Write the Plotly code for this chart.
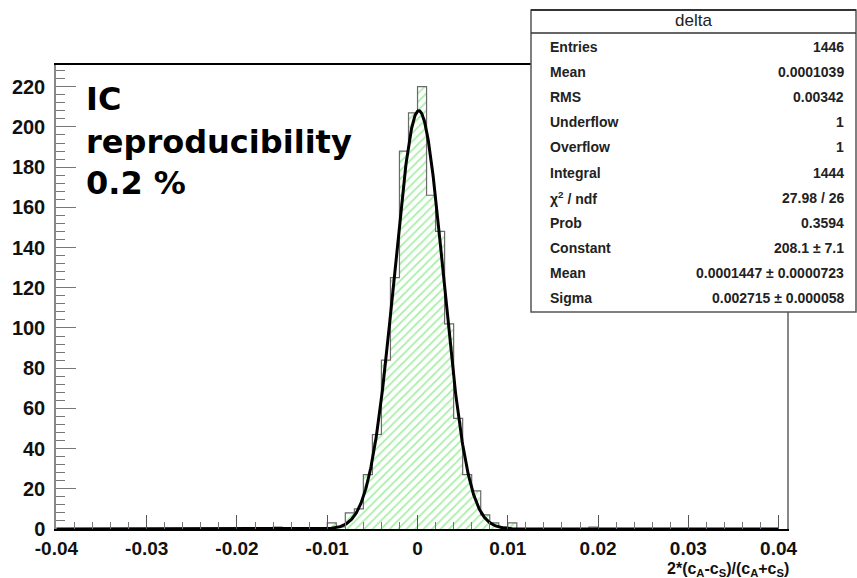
import numpy as np
import plotly.graph_objects as go

# ---------------- data ----------------
bin_centers = [-0.0155, -0.0145, -0.0135, -0.0125, -0.0115, -0.0105, -0.0095, -0.0085,
               -0.0075, -0.0065, -0.0055, -0.0045, -0.0035, -0.0025, -0.0015, -0.0005,
               0.0005, 0.0015, 0.0025, 0.0035, 0.0045, 0.0055, 0.0065, 0.0075,
               0.0085, 0.0095, 0.0105, 0.0115, 0.0125, 0.0135, 0.0145, 0.0155,
               0.0165, 0.0175, 0.0185, 0.0195]
counts = [1, 0, 0, 0, 0, 0, 3, 1,
          8, 10, 27, 47, 84, 125, 188, 207,
          220, 166, 148, 102, 55, 27, 19, 7,
          3, 1, 3, 0, 0, 0, 0, 0,
          0, 0, 0, 1]
bin_width = 0.001

fit_constant = 208.1
fit_mean = 0.0001447
fit_sigma = 0.002715

x_tick_vals = [-0.04, -0.03, -0.02, -0.01, 0.0, 0.01, 0.02, 0.03, 0.04]
x_tick_text = ["-0.04", "-0.03", "-0.02", "-0.01", "0", "0.01", "0.02", "0.03", "0.04"]
y_tick_vals = [0, 20, 40, 60, 80, 100, 120, 140, 160, 180, 200, 220]

stats_title = "delta"
stats_labels = ["Entries", "Mean", "RMS", "Underflow", "Overflow", "Integral",
                "χ<sup>2</sup> / ndf", "Prob", "Constant", "Mean", "Sigma"]
stats_values = ["1446", "0.0001039", "0.00342", "1", "1", "1444",
                "27.98 / 26", "0.3594", "208.1 ± 7.1",
                "0.0001447 ± 0.0000723", "0.002715 ± 0.000058"]

label_lines = ["IC", "reproducibility", "0.2 %"]
x_title = "2*(c<sub>A</sub>-c<sub>S</sub>)/(c<sub>A</sub>+c<sub>S</sub>)"

# ---------------- layout geometry (pixels) ----------------
W, H = 857, 578
L, R, T, B = 56, 787, 65, 529


def px(x):
    return (x - L) / (R - L)


def py(y):
    return (B - y) / (B - T)


FONT = "Liberation Sans, Arial, sans-serif"

fig = go.Figure()

# histogram fill (hatched)
fig.add_trace(go.Bar(
    x=bin_centers, y=counts, width=bin_width,
    marker=dict(color="rgba(0,0,0,0)", line=dict(width=0),
                pattern=dict(shape="/", fgcolor="#4fe04f", bgcolor="white",
                             size=6, solidity=0.3)),
    showlegend=False, hoverinfo="skip"))

# histogram outline (step)
edges_left = [c - bin_width / 2 for c in bin_centers]
step_x = [edges_left[0]] + edges_left + [bin_centers[-1] + bin_width / 2]
step_y = [0] + counts + [0]
fig.add_trace(go.Scatter(x=step_x, y=step_y, mode="lines", line_shape="hv",
                         line=dict(color="#6a6a6a", width=1.2),
                         showlegend=False, hoverinfo="skip"))

# gaussian fit curve
xf = np.linspace(-0.04, 0.04, 1601)
yf = fit_constant * np.exp(-0.5 * ((xf - fit_mean) / fit_sigma) ** 2)
fig.add_trace(go.Scatter(x=xf, y=yf, mode="lines",
                         line=dict(color="black", width=3),
                         showlegend=False, hoverinfo="skip"))

fig.update_layout(
    width=W, height=H,
    margin=dict(l=L, r=W - R, t=T, b=H - B),
    paper_bgcolor="white", plot_bgcolor="white",
    bargap=0,
    font=dict(family=FONT, color="black"),
)

fig.update_xaxes(
    range=[-0.04005, 0.04093], showgrid=False, zeroline=False,
    showline=True, linecolor="black", linewidth=2, mirror=True,
    tickvals=x_tick_vals, ticktext=x_tick_text,
    ticks="inside", ticklen=14, tickcolor="#555", tickwidth=1,
    minor=dict(dtick=0.002, tick0=0, ticks="inside", ticklen=7, tickcolor="#777"),
    tickfont=dict(family=FONT, size=19, color="#111", weight="bold"),
    ticklabelstandoff=1,
)
fig.update_yaxes(
    range=[0, 230.8], showgrid=False, zeroline=False,
    showline=True, linecolor="#888", linewidth=1.5, mirror=True,
    tickvals=y_tick_vals,
    ticks="inside", ticklen=20, tickcolor="#777", tickwidth=1,
    minor=dict(dtick=4, tick0=0, ticks="inside", ticklen=9, tickcolor="#777"),
    tickfont=dict(family=FONT, size=20, color="#111", weight="bold"),
    ticklabelstandoff=5,
)

shapes = []
annotations = []

# stats box
bx0, bx1, by0, by1 = 531, 856, 10, 312
shapes.append(dict(type="rect", xref="paper", yref="paper",
                   x0=px(bx0), x1=px(bx1), y0=py(by1), y1=py(by0),
                   fillcolor="white", line=dict(color="#555", width=1.5), layer="above"))
shapes.append(dict(type="line", xref="paper", yref="paper",
                   x0=px(bx0), x1=px(bx1), y0=py(33), y1=py(33),
                   line=dict(color="#333", width=1.5), layer="above"))
shapes.append(dict(type="line", xref="paper", yref="paper",
                   x0=px(bx0), x1=px(bx1), y0=py(by0), y1=py(by0),
                   line=dict(color="#333", width=2), layer="above"))
annotations.append(dict(text=stats_title, xref="paper", yref="paper",
                        x=px((bx0 + bx1) / 2), y=py(21), xanchor="center", yanchor="middle",
                        showarrow=False, font=dict(family=FONT, size=17, color="#222")))
row0, drow = 47, 25.1
for i, (lab, val) in enumerate(zip(stats_labels, stats_values)):
    yy = row0 + i * drow
    annotations.append(dict(text=lab, xref="paper", yref="paper",
                            x=px(548), y=py(yy), xanchor="left", yanchor="middle",
                            showarrow=False,
                            font=dict(family=FONT, size=14, color="#222", weight="bold")))
    annotations.append(dict(text=val, xref="paper", yref="paper",
                            x=px(846), y=py(yy), xanchor="right", yanchor="middle",
                            showarrow=False,
                            font=dict(family=FONT, size=14, color="#222", weight="bold")))

# IC reproducibility label
for txt, yy in zip(label_lines, [99, 142, 183]):
    annotations.append(dict(text=txt, xref="paper", yref="paper",
                            x=px(84), y=py(yy), xanchor="left", yanchor="middle",
                            showarrow=False,
                            font=dict(family="DejaVu Sans, sans-serif", size=32,
                                      color="black", weight="bold")))

# x axis title
annotations.append(dict(text=x_title, xref="paper", yref="paper",
                        x=px(791), y=py(569), xanchor="right", yanchor="middle",
                        showarrow=False,
                        font=dict(family=FONT, size=16, color="#111", weight="bold")))

fig.update_layout(shapes=shapes, annotations=annotations)

fig.write_html("out.html",
               config={"displayModeBar": False},
               post_script="document.body.style.margin='0px';"
                           "document.body.style.overflow='hidden';")
